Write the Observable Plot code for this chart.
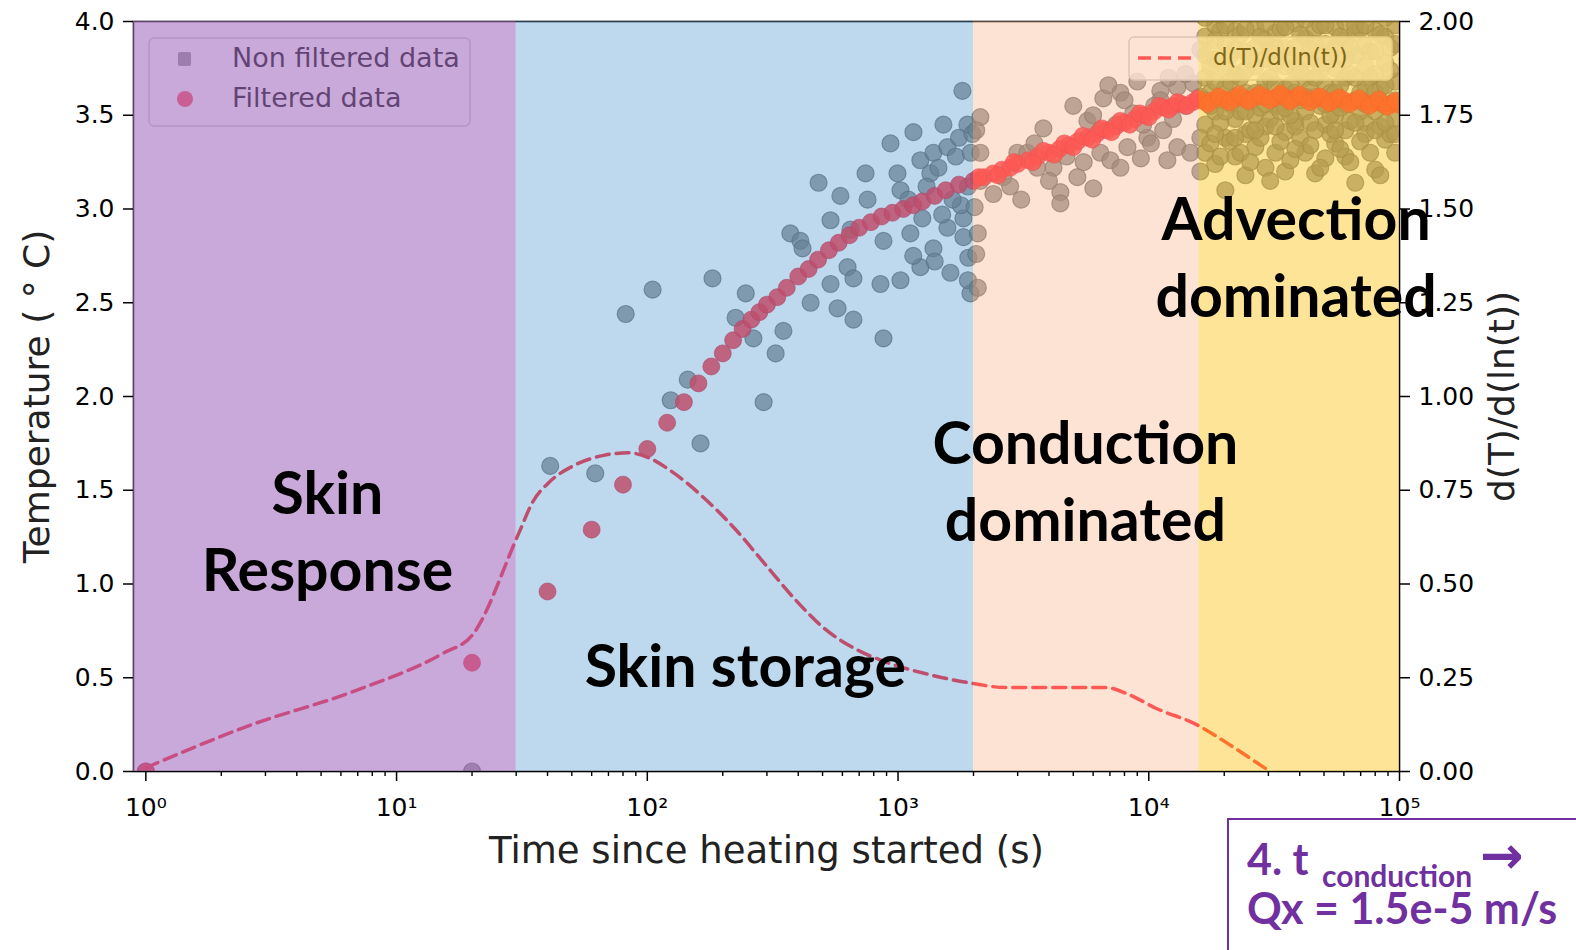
<!DOCTYPE html>
<html>
<head>
<meta charset="utf-8">
<script src="https://cdn.jsdelivr.net/npm/d3@7"></script>
<script src="https://cdn.jsdelivr.net/npm/@observablehq/plot@0.6"></script>
<style>
html, body { margin: 0; padding: 0; background: #fff; overflow: hidden; }
#wrap { position: relative; width: 1576px; height: 950px; }
</style>
</head>
<body>
<div id="wrap"></div>
<script>
// ---------------- DATA ----------------
// Filtered data (time in s, temperature in °C)
const filteredTime = [1, 20, 40, 60, 80, 100, 120, 140, 160, 180, 200, 220, 240, 260, 280, 300, 330, 360, 400, 440, 480, 530, 580, 640, 700, 780, 860, 950, 1050, 1150, 1250, 1400, 1550, 1750,
  2000, 2200, 2400, 2600, 2800, 3000, 3300, 3600, 4000, 4400, 4800, 5200, 5700, 6200, 6800, 7400, 8000, 8800, 9600, 10500, 11500, 12500, 13500, 15000, 16500, 18000, 20000, 22000, 24000, 26500, 29000, 32000, 35000, 38000, 42000, 46000, 50000, 55000, 60000, 66000, 72000, 79000, 86000, 93000, 100000,
  2100, 2500, 2900, 3450, 3800, 4200, 4600, 5000, 5450, 5950, 6500, 7100, 7700, 8400, 9200, 10000, 11000, 12000, 13000, 14200, 15700, 17200, 19000, 21000, 23000, 25000, 27700, 30500, 33500, 36500, 40000, 44000, 48000, 52500, 57500, 63000, 69000, 75500, 82500, 89500, 96500];
const filteredTemp = [0.0, 0.58, 0.96, 1.29, 1.53, 1.72, 1.86, 1.97, 2.07, 2.16, 2.23, 2.30, 2.36, 2.41, 2.45, 2.49, 2.53, 2.58, 2.64, 2.68, 2.73, 2.78, 2.82, 2.86, 2.90, 2.93, 2.96, 2.98, 3.00, 3.02, 3.04, 3.07, 3.10, 3.13,
  3.15, 3.17, 3.19, 3.21, 3.22, 3.24, 3.26, 3.28, 3.30, 3.32, 3.34, 3.36, 3.38, 3.40, 3.42, 3.44, 3.46, 3.48, 3.50, 3.52, 3.54, 3.55, 3.56, 3.57, 3.575, 3.58, 3.585, 3.59, 3.59, 3.595, 3.595, 3.595, 3.595, 3.59, 3.59, 3.585, 3.585, 3.58, 3.58, 3.575, 3.57, 3.565, 3.56, 3.56, 3.555,
  3.17, 3.18, 3.25, 3.25, 3.31, 3.29, 3.35, 3.33, 3.39, 3.37, 3.43, 3.41, 3.47, 3.45, 3.51, 3.49, 3.55, 3.53, 3.57, 3.55, 3.59, 3.56, 3.60, 3.57, 3.61, 3.575, 3.61, 3.58, 3.615, 3.575, 3.61, 3.57, 3.60, 3.565, 3.595, 3.56, 3.59, 3.55, 3.585, 3.545, 3.575];

// Non filtered data (time in s, temperature in °C)
const rawTime = [1, 20, 41, 62, 82, 105, 124, 145, 163, 182, 225, 247, 265, 291, 325, 349, 372, 408, 416, 448, 482, 538, 538, 574, 589, 629, 646, 664, 664, 742, 756, 851, 875, 875, 933, 995, 1023, 1023, 1120, 1152, 1228, 1228, 1346, 1384, 1384, 1517, 1574, 1574, 1618, 1806, 1823, 1823, 1891, 1945, 1907, 1780,
  1100, 1300, 1450, 1650, 1700, 1900, 1500, 1250, 1750, 1950, 1150, 1400, 1900, 1980,
  2130, 2400, 2630, 2990, 3280, 3590, 3800, 4170, 4440, 4440, 5000, 5190, 5690, 6010, 6410, 6410, 6590, 6900, 7030, 7710, 7710, 8220, 8670, 9870, 11120, 11120, 11420, 11860, 13000, 13000, 14650, 15060,
  2130, 2050, 2130, 2020, 2080, 2050, 2080,
  2800, 3100, 3500, 4000, 4700, 5500, 6000, 7400, 8000, 9000, 9500, 10500, 12000, 12500, 14000, 14000, 9300, 10200,
  16800, 16800, 16800, 16800, 18400, 18400, 18400, 18400, 20200, 20200, 20200, 20200, 22100, 22100, 22100, 22100, 24300, 24300, 24300, 24300,
  26600, 26600, 26600, 26600, 29200, 29200, 29200, 29200, 32000, 32000, 32000, 32000, 35000, 35000, 35000, 35000, 38400, 38400, 38400, 38400,
  42100, 42100, 42100, 42100, 46100, 46100, 46100, 46100, 50600, 50600, 50600, 50600, 55400, 55400, 55400, 55400, 60800, 60800, 60800, 60800,
  66600, 66600, 66600, 66600, 73000, 73000, 73000, 73000, 80000, 80000, 80000, 80000, 87700, 87700, 87700, 87700, 96100, 96100, 96100, 96100,
  16060, 16060, 16060, 16060, 17600, 17600, 17600, 17600, 19300, 19300, 19300, 19300, 21100, 21100, 21100, 21100, 23200, 23200, 23200, 23200,
  25400, 25400, 25400, 25400, 27900, 27900, 27900, 27900, 30500, 30500, 30500, 30500, 33500, 33500, 33500, 33500, 36700, 36700, 36700, 36700,
  40200, 40200, 40200, 40200, 44100, 44100, 44100, 44100, 48300, 48300, 48300, 48300, 53000, 53000, 53000, 53000, 58000, 58000, 58000, 58000,
  63600, 63600, 63600, 63600, 69700, 69700, 69700, 69700, 76400, 76400, 76400, 76400, 83800, 83800, 83800, 83800, 91800, 91800, 91800, 91800,
  16800, 16800, 16800, 18400, 18400, 18400, 20200, 20200, 20200, 22100, 22100, 22100, 24300, 24300, 24300, 26600, 26600, 26600, 29200, 29200, 29200,
  32000, 32000, 32000, 35000, 35000, 35000, 38400, 38400, 38400, 42100, 42100, 42100, 46100, 46100, 46100, 50600, 50600, 50600, 55400, 55400, 55400,
  60800, 60800, 60800, 66600, 66600, 66600, 73000, 73000, 73000, 80000, 80000, 80000, 87700, 87700, 87700, 96100, 96100, 96100];
const rawTemp = [0.0, 0.0, 1.63, 1.59, 2.44, 2.57, 1.98, 2.09, 1.75, 2.63, 2.42, 2.55, 2.31, 1.97, 2.23, 2.35, 2.87, 2.83, 2.79, 2.50, 3.14, 2.94, 2.60, 2.47, 3.07, 2.69, 2.89, 2.63, 2.41, 3.19, 3.05, 2.60, 2.83, 2.31, 3.35, 3.19, 3.10, 2.62, 2.87, 3.41, 3.26, 2.69, 3.19, 3.30, 2.79, 3.45, 3.33, 2.90, 2.66, 3.63, 2.95, 2.85, 3.45, 2.55, 2.74, 3.02,
  3.05, 3.12, 3.22, 3.05, 3.28, 3.12, 2.97, 2.95, 3.38, 3.30, 2.75, 2.72, 2.62, 3.40,
  3.15, 3.08, 3.17, 3.30, 3.30, 3.22, 3.43, 3.22, 3.09, 3.03, 3.55, 3.17, 3.47, 3.11, 3.42, 3.30, 3.59, 3.66, 3.26, 3.62, 3.22, 3.33, 3.51, 3.38, 3.63, 3.58, 3.42, 3.26, 3.65, 3.33, 3.30, 3.67,
  3.49, 3.42, 3.30, 3.01, 2.87, 2.76, 2.58,
  3.12, 3.05, 3.35, 3.15, 3.28, 3.25, 3.50, 3.45, 3.58, 3.68, 3.45, 3.55, 3.70, 3.48, 3.72, 3.55, 3.27, 3.35,
  3.92, 3.70, 3.45, 3.30, 3.98, 3.80, 3.52, 3.24, 3.88, 3.65, 3.38, 3.10, 3.95, 3.72, 3.48, 3.28, 3.84, 3.62, 3.40, 3.18,
  3.97, 3.76, 3.50, 3.33, 3.90, 3.68, 3.44, 3.22, 3.94, 3.78, 3.55, 3.30, 3.86, 3.64, 3.41, 3.20, 3.99, 3.74, 3.47, 3.44,
  3.91, 3.70, 3.52, 3.30, 3.96, 3.80, 3.60, 3.19, 3.88, 3.66, 3.45, 3.27, 3.97, 3.75, 3.50, 3.35, 3.90, 3.70, 3.42, 3.28,
  3.94, 3.82, 3.58, 3.14, 3.87, 3.66, 3.46, 3.40, 3.95, 3.72, 3.52, 3.21, 3.92, 3.78, 3.55, 3.37, 3.98, 3.68, 3.48, 3.30,
  3.85, 3.60, 3.38, 3.20, 3.76, 3.55, 3.35, 3.62, 3.95, 3.58, 3.46, 3.28, 3.82, 3.56, 3.36, 3.68, 3.93, 3.70, 3.52, 3.30,
  3.80, 3.57, 3.42, 3.25, 3.92, 3.62, 3.38, 3.54, 3.84, 3.70, 3.48, 3.15, 3.96, 3.60, 3.36, 3.52, 3.82, 3.66, 3.50, 3.26,
  3.93, 3.58, 3.38, 3.74, 3.85, 3.64, 3.46, 3.34, 3.98, 3.74, 3.55, 3.22, 3.83, 3.62, 3.40, 3.50, 3.92, 3.66, 3.54, 3.32,
  3.86, 3.72, 3.47, 3.25, 3.96, 3.62, 3.36, 3.52, 3.84, 3.70, 3.58, 3.30, 3.93, 3.64, 3.44, 3.18, 3.86, 3.74, 3.56, 3.40,
  3.82, 3.58, 4.02, 3.68, 3.40, 3.90, 3.76, 3.52, 3.98, 3.85, 3.60, 3.38, 3.96, 3.74, 3.52, 3.86, 3.62, 3.42, 3.99, 3.80, 3.56,
  3.86, 3.66, 3.44, 3.97, 3.76, 3.54, 3.86, 3.62, 3.32, 4.01, 3.80, 3.60, 3.88, 3.70, 3.42, 3.98, 3.78, 3.56, 3.86, 3.62, 3.42,
  4.00, 3.80, 3.56, 3.98, 3.70, 3.46, 3.98, 3.76, 3.56, 3.84, 3.62, 3.42, 4.02, 3.66, 3.46, 3.88, 3.58, 3.40];

// d(T)/d(ln(t)) (right axis)
const slopeTime = [1, 2.65, 6.7, 15.3, 20, 30.7, 35, 40.4, 51, 67, 84, 101, 127, 168, 223, 293, 386, 509, 671, 884, 1285, 1980, 2680, 4250, 6720, 8150, 10720, 15500, 20400, 26900, 30500];
const slopeValue = [0.01, 0.125, 0.213, 0.315, 0.363, 0.635, 0.72, 0.77, 0.816, 0.843, 0.85, 0.837, 0.797, 0.73, 0.648, 0.555, 0.461, 0.381, 0.328, 0.293, 0.261, 0.235, 0.224, 0.224, 0.224, 0.208, 0.168, 0.125, 0.077, 0.024, 0.0];

// Regions (time boundaries)
const regionStart = [0.893, 30, 2000, 15850];
const regionEnd = [30, 2000, 15850, 100000];
const regionFill = ["#a36fc0", "#5c9dd2", "#fab994", "#fbc92d"];
const regionAlpha = [0.6, 0.4, 0.4, 0.5];

// Annotation labels
const labelText = ["Skin\nResponse", "Skin storage", "Conduction\ndominated", "Advection\ndominated"];
const labelTime = [5.3, 246, 5590, 38700];
const labelTemp = [1.30, 0.585, 1.565, 2.76];

// Ticks
const xMajorTicks = [1, 10, 100, 1000, 10000, 100000];
const xMajorLabels = ["10\u2070", "10\u00B9", "10\u00B2", "10\u00B3", "10\u2074", "10\u2075"];
const yTicks = [0, 0.5, 1, 1.5, 2, 2.5, 3, 3.5, 4];

// ---------------- BUILD ----------------
const filtered = filteredTime.map((t, i) => ({t, T: filteredTemp[i]}));
const raw = rawTime.map((t, i) => ({t, T: rawTemp[i]}));
const slope = slopeTime.map((t, i) => ({t, v: slopeValue[i]}));
const regions = regionStart.map((s, i) => ({start: s, end: regionEnd[i]}));
const labels = labelText.map((s, i) => ({text: s, t: labelTime[i], T: labelTemp[i]}));
const xMinorTicks = [];
for (let k = 0; k < 5; k++) for (let m = 2; m <= 9; m++) xMinorTicks.push(m * Math.pow(10, k));

const RED = "#ff1a2a";

function legends() {
  const g = d3.create("svg:g").attr("font-family", "DejaVu Sans").attr("text-anchor", "start");
  // left legend
  g.append("rect").attr("x", 149).attr("y", 38).attr("width", 321).attr("height", 88).attr("rx", 5)
    .attr("fill", "white").attr("fill-opacity", 0.8).attr("stroke", "#cccccc").attr("stroke-width", 1.5);
  g.append("rect").attr("x", 178).attr("y", 52).attr("width", 13).attr("height", 14).attr("rx", 2)
    .attr("fill", "#6e6e6e").attr("fill-opacity", 0.75);
  g.append("circle").attr("cx", 185).attr("cy", 99).attr("r", 8).attr("fill", RED).attr("fill-opacity", 0.8);
  g.append("text").attr("x", 232).attr("y", 58).attr("dy", "0.35em").attr("font-size", 27).attr("fill", "black").text("Non filtered data");
  g.append("text").attr("x", 232).attr("y", 98).attr("dy", "0.35em").attr("font-size", 27).attr("fill", "black").text("Filtered data");
  // right legend
  g.append("rect").attr("x", 1129).attr("y", 37).attr("width", 263).attr("height", 43).attr("rx", 5)
    .attr("fill", "white").attr("fill-opacity", 0.8).attr("stroke", "#cccccc").attr("stroke-width", 1.5);
  g.append("line").attr("x1", 1138).attr("x2", 1192).attr("y1", 58).attr("y2", 58)
    .attr("stroke", RED).attr("stroke-width", 3.5).attr("stroke-dasharray", "13,7");
  g.append("text").attr("x", 1213).attr("y", 57).attr("dy", "0.35em").attr("font-size", 23).attr("fill", "black").text("d(T)/d(ln(t))");
  return g.node();
}

const plot = Plot.plot({
  width: 1576,
  height: 950,
  marginLeft: 133,
  marginRight: 177,
  marginTop: 21,
  marginBottom: 179,
  style: {fontFamily: "DejaVu Sans", fontSize: "25px", background: "white", overflow: "visible"},
  x: {type: "log", domain: [regionStart[0], 1e5], label: null},
  y: {domain: [0, 4], label: null},
  marks: [
    Plot.dot(raw, {x: "t", y: "T", r: 8.5, fill: "#6e6e6e", fillOpacity: 0.72, stroke: "#555", strokeWidth: 1.2, strokeOpacity: 0.7, clip: true}),
    Plot.dot(filtered, {x: "t", y: "T", r: 8.5, fill: RED, fillOpacity: 0.85, stroke: "#e0102a", strokeWidth: 1, strokeOpacity: 0.6, clip: true}),
    Plot.line(slope, {x: "t", y: d => d.v * 2, stroke: RED, strokeWidth: 3.5, strokeDasharray: "13,7", curve: "monotone-x"}),
    legends,
    Plot.frame({stroke: "black", strokeWidth: 1.6}),
    ...regions.map((r, i) => Plot.rect([r], {x1: "start", x2: "end", fill: regionFill[i], fillOpacity: regionAlpha[i]})),
    Plot.axisX({ticks: xMinorTicks, tickSize: 5, tickFormat: () => "", strokeWidth: 1.4, label: null}),
    Plot.axisX({ticks: xMajorTicks, tickSize: 10, tickPadding: 17, fontSize: 25, strokeWidth: 1.5,
      tickFormat: d => xMajorLabels[xMajorTicks.indexOf(d)], label: null}),
    Plot.axisY({anchor: "left", ticks: yTicks, tickSize: 10, tickPadding: 9, fontSize: 25, strokeWidth: 1.5,
      tickFormat: d => d.toFixed(1), label: null}),
    Plot.axisY({anchor: "right", ticks: yTicks, tickSize: 10, tickPadding: 9, fontSize: 25, strokeWidth: 1.5,
      tickFormat: d => (d / 2).toFixed(2), label: null}),
    Plot.text(["Temperature ( \u00B0 C)"], {frameAnchor: "left", dx: -96, rotate: -90, textAnchor: "middle", lineAnchor: "middle", fontSize: 36, fill: "#222"}),
    Plot.text(["d(T)/d(ln(t))"], {frameAnchor: "right", dx: 103, rotate: -90, textAnchor: "middle", lineAnchor: "middle", fontSize: 36, fill: "#222"}),
    Plot.text(["Time since heating started (s)"], {frameAnchor: "bottom", dy: 80, textAnchor: "middle", lineAnchor: "middle", fontSize: 37, fill: "#222"}),
    Plot.text(labels, {x: "t", y: "T", text: "text", fontSize: 59, fontWeight: "bold", fontFamily: "Lato", lineHeight: 1.31, fill: "black", textAnchor: "middle", lineAnchor: "middle"})
  ]
});

// Annotation box (bottom right)
const svg = d3.select(plot);
const note = svg.append("g").attr("font-family", "Lato").attr("font-weight", "bold").attr("fill", "#7030a0").attr("text-anchor", "start");
note.append("rect").attr("x", 1228).attr("y", 819).attr("width", 420).attr("height", 200)
  .attr("fill", "white").attr("stroke", "#7030a0").attr("stroke-width", 2);
note.append("text").attr("x", 1247).attr("y", 875).attr("font-size", 43).text("4. t");
note.append("text").attr("x", 1322).attr("y", 887).attr("font-size", 30).text("conduction");
note.append("text").attr("x", 1480).attr("y", 873).attr("font-size", 52).attr("font-family", "DejaVu Sans").text("\u2192");
note.append("text").attr("x", 1247).attr("y", 924).attr("font-size", 43).text("Qx = 1.5e-5 m/s");

document.getElementById("wrap").appendChild(plot);
</script>
</body>
</html>
